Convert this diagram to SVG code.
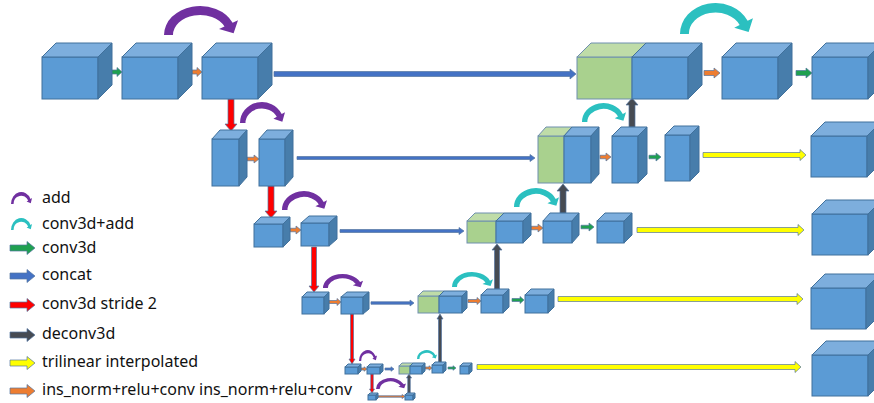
<svg xmlns="http://www.w3.org/2000/svg" xmlns:xlink="http://www.w3.org/1999/xlink" width="874" height="403" viewBox="0 0 874 403">
<style>
.fr{fill:#5B9BD5;stroke:#41719C;stroke-width:1}
.tp{fill:#7DAEDD;stroke:#41719C;stroke-width:1}
.sd{fill:#477DAB;stroke:#41719C;stroke-width:1}
.gf{fill:#A9D18E;stroke:#6F8FAF;stroke-width:1}
.gt{fill:#BFDCA8;stroke:#6F8FAF;stroke-width:1}
.ar{stroke:#5576A0;stroke-width:0.7}
.g{fill:#1FA050}
.b{fill:#4472C4}
.r{fill:#FF0000}
.d{fill:#464B53}
.y{fill:#FFFF00}
.o{fill:#ED7D31}
.pu{fill:#7030A0}
.cy{fill:#2BC0C0}
text{font-family:"Noto Sans","Liberation Sans",sans-serif;font-size:16px;fill:#111}
</style>
<defs>
<path id="arc" d="M0,29 A36,29 0 0 1 68.6,16.7 L74,14.2 L69.6,27.2 L55,23.1 L60.5,20.5 A27,20 0 0 0 9,29 Z"/>
</defs>

<g id="connectors">
<!-- arcs -->
<use xlink:href="#arc" class="pu" transform="translate(164,6) scale(1,1)"/>
<use xlink:href="#arc" class="pu" transform="translate(240,102) scale(0.608,0.724)"/>
<use xlink:href="#arc" class="pu" transform="translate(282,191) scale(0.608,0.655)"/>
<use xlink:href="#arc" class="pu" transform="translate(323,274) scale(0.541,0.483)"/>
<use xlink:href="#arc" class="pu" transform="translate(359,350) scale(0.243,0.379)"/>
<use xlink:href="#arc" class="pu" transform="translate(376,378) scale(0.405,0.379)"/>
<use xlink:href="#arc" class="cy" transform="translate(680,3) scale(0.986,1.069)"/>
<use xlink:href="#arc" class="cy" transform="translate(582,103) scale(0.595,0.655)"/>
<use xlink:href="#arc" class="cy" transform="translate(514,188) scale(0.608,0.655)"/>
<use xlink:href="#arc" class="cy" transform="translate(452,272) scale(0.554,0.517)"/>
<use xlink:href="#arc" class="cy" transform="translate(417,350) scale(0.270,0.310)"/>

<!-- row 1 -->
<polygon class="ar g" points="111,70 117,70 117,67.5 122,72 117,76.5 117,74 111,74"/>
<polygon class="ar o" points="192,70 197,70 197,67.5 202,72 197,76.5 197,74 192,74"/>
<polygon class="ar b" points="274,71.5 570,71.5 570,69 576,74 570,79 570,76.5 274,76.5"/>
<polygon class="ar o" points="704,70.5 714,70.5 714,68 720,73 714,78 714,75.5 704,75.5"/>
<polygon class="ar g" points="796,70.5 806,70.5 806,68 812,73 806,78 806,75.5 796,75.5"/>
<polygon class="ar r" points="228,99 234,99 234,124 237,124 231,131 225,124 228,124"/>
<!-- row 2 -->
<polygon class="ar o" points="247,157.25 254,157.25 254,155 259,159 254,163 254,160.75 247,160.75"/>
<polygon class="ar b" points="297,156.5 530,156.5 530,154.5 535,158 530,161.5 530,159.5 297,159.5"/>
<polygon class="ar o" points="600,155.25 606,155.25 606,153 611,157 606,161 606,158.75 600,158.75"/>
<polygon class="ar g" points="649,155.25 656,155.25 656,153 661,157 656,161 656,158.75 649,158.75"/>
<polygon class="ar y" points="703,152.5 800,152.5 800,149.5 806,155 800,160.5 800,157.5 703,157.5"/>
<polygon class="ar d" points="629,127 635,127 635,105 638,105 632,98 626,105 629,105"/>
<polygon class="ar r" points="268,186 274,186 274,211 277,211 271,218 265,211 268,211"/>
<!-- row 3 -->
<polygon class="ar o" points="290,228.25 296,228.25 296,226 301,230 296,234 296,231.75 290,231.75"/>
<polygon class="ar b" points="340,229.5 459,229.5 459,227.5 464,231 459,234.5 459,232.5 340,232.5"/>
<polygon class="ar o" points="531,226.25 538,226.25 538,224 543,228 538,232 538,229.75 531,229.75"/>
<polygon class="ar g" points="581,225.25 589,225.25 589,223 594,227 589,231 589,228.75 581,228.75"/>
<polygon class="ar y" points="637,227.5 798,227.5 798,224.5 804,230 798,235.5 798,232.5 637,232.5"/>
<polygon class="ar d" points="560,213 566,213 566,191 569,191 563,184 557,191 560,191"/>
<polygon class="ar r" points="311.5,247 316.5,247 316.5,286 319,286 314,292 309,286 311.5,286"/>
<!-- row 4 -->
<polygon class="ar o" points="329,300.5 337,300.5 337,298.5 341,302 337,305.5 337,303.5 329,303.5"/>
<polygon class="ar b" points="371,301.75 410,301.75 410,300 414,303 410,306 410,304.25 371,304.25"/>
<polygon class="ar o" points="468,299.5 477,299.5 477,297.5 481,301 477,304.5 477,302.5 468,302.5"/>
<polygon class="ar g" points="512,298.5 520,298.5 520,296.5 524,300 520,303.5 520,301.5 512,301.5"/>
<polygon class="ar y" points="558,296.5 797,296.5 797,293.5 803,299 797,304.5 797,301.5 558,301.5"/>
<polygon class="ar d" points="494.5,289 499.5,289 499.5,250 502,250 497,244 492,250 494.5,250"/>
<polygon class="ar r" points="350.5,314 353.5,314 353.5,359 355,359 352,364 349,359 350.5,359"/>
<!-- row 5 -->
<polygon class="ar o" points="361,368 364,368 364,366.75 367,369 364,371.25 364,370 361,370"/>
<polygon class="ar b" points="385,368 391,368 391,366.75 394,369 391,371.25 391,370 385,370"/>
<polygon class="ar o" points="425,367 429,367 429,365.75 432,368 429,370.25 429,369 425,369"/>
<polygon class="ar g" points="448,367 453,367 453,365.75 456,368 453,370.25 453,369 448,369"/>
<polygon class="ar y" points="477,364.5 795,364.5 795,361.5 801,367 795,372.5 795,369.5 477,369.5"/>
<polygon class="ar d" points="438.5,363 441.5,363 441.5,319 443,319 440,314 437,319 438.5,319"/>
<polygon class="ar r" points="370.75,374 373.25,374 373.25,389 374.5,389 372,393 369.5,389 370.75,389"/>
<!-- row 6 -->
<polygon class="ar o" points="378,395.75 402,395.75 402,394.5 405,396.5 402,398.5 402,397.25 378,397.25"/>
<polygon class="ar d" points="407.75,393 410.25,393 410.25,378 411.5,378 409,374 406.5,378 407.75,378"/>
</g>

<!-- row 1 nodes -->
<g id="c1"><rect class="fr" x="42" y="57" width="56" height="42"/><polygon class="tp" points="42,57 56,43 112,43 98,57"/><polygon class="sd" points="98,57 112,43 112,85 98,99"/></g>
<g id="c2"><rect class="fr" x="122" y="57" width="56" height="42"/><polygon class="tp" points="122,57 136,43 192,43 178,57"/><polygon class="sd" points="178,57 192,43 192,85 178,99"/></g>
<g id="c3"><rect class="fr" x="202" y="57" width="56" height="42"/><polygon class="tp" points="202,57 216,43 272,43 258,57"/><polygon class="sd" points="258,57 272,43 272,85 258,99"/></g>
<g id="cat1"><rect class="gf" x="577" y="57" width="55" height="42"/><polygon class="gt" points="577,57 591,43 646,43 632,57"/><rect class="fr" x="632" y="57" width="56" height="42"/><polygon class="tp" points="632,57 646,43 702,43 688,57"/><polygon class="sd" points="688,57 702,43 702,85 688,99"/></g>
<g id="c4"><rect class="fr" x="722" y="57" width="56" height="42"/><polygon class="tp" points="722,57 736,43 792,43 778,57"/><polygon class="sd" points="778,57 792,43 792,85 778,99"/></g>
<g id="c5"><rect class="fr" x="812" y="57" width="56" height="42"/><polygon class="tp" points="812,57 826,43 882,43 868,57"/><polygon class="sd" points="868,57 882,43 882,85 868,99"/></g>

<!-- row 2 nodes -->
<g id="a2"><rect class="fr" x="212" y="139" width="27" height="47"/><polygon class="tp" points="212,139 220,130 247,130 239,139"/><polygon class="sd" points="239,139 247,130 247,177 239,186"/></g>
<g id="b2"><rect class="fr" x="259" y="139" width="26" height="47"/><polygon class="tp" points="259,139 267,130 293,130 285,139"/><polygon class="sd" points="285,139 293,130 293,177 285,186"/></g>
<g id="cat2"><rect class="gf" x="538" y="136" width="26" height="47"/><polygon class="gt" points="538,136 546,127 572,127 564,136"/><rect class="fr" x="564" y="136" width="27" height="47"/><polygon class="tp" points="564,136 572,127 599,127 591,136"/><polygon class="sd" points="591,136 599,127 599,174 591,183"/></g>
<g id="c2b"><rect class="fr" x="612" y="136" width="26" height="47"/><polygon class="tp" points="612,136 621,127 647,127 638,136"/><polygon class="sd" points="638,136 647,127 647,174 638,183"/></g>
<g id="d2"><rect class="fr" x="665" y="135" width="25" height="46"/><polygon class="tp" points="665,135 674,126 699,126 690,135"/><polygon class="sd" points="690,135 699,126 699,172 690,181"/></g>
<g id="r2"><rect class="fr" x="811" y="136" width="56" height="41"/><polygon class="tp" points="811,136 825,122 881,122 867,136"/><polygon class="sd" points="867,136 881,122 881,163 867,177"/></g>

<!-- row 3 nodes -->
<g id="e3"><rect class="fr" x="254" y="224" width="29" height="23"/><polygon class="tp" points="254,224 261,217 290,217 283,224"/><polygon class="sd" points="283,224 290,217 290,240 283,247"/></g>
<g id="f3"><rect class="fr" x="301" y="223" width="28" height="23"/><polygon class="tp" points="301,223 309,216 337,216 329,223"/><polygon class="sd" points="329,223 337,216 337,239 329,246"/></g>
<g id="cat3"><rect class="gf" x="467" y="221" width="29" height="22"/><polygon class="gt" points="467,221 475,213 504,213 496,221"/><rect class="fr" x="496" y="221" width="27" height="22"/><polygon class="tp" points="496,221 504,213 531,213 523,221"/><polygon class="sd" points="523,221 531,213 531,235 523,243"/></g>
<g id="g3"><rect class="fr" x="543" y="221" width="29" height="22"/><polygon class="tp" points="543,221 550,213 579,213 572,221"/><polygon class="sd" points="572,221 579,213 579,235 572,243"/></g>
<g id="h3"><rect class="fr" x="597" y="221" width="27" height="22"/><polygon class="tp" points="597,221 605,213 632,213 624,221"/><polygon class="sd" points="624,221 632,213 632,235 624,243"/></g>
<g id="r3"><rect class="fr" x="812" y="214" width="56" height="41"/><polygon class="tp" points="812,214 826,200 882,200 868,214"/><polygon class="sd" points="868,214 882,200 882,241 868,255"/></g>

<!-- row 4 nodes -->
<g id="i4"><rect class="fr" x="302" y="297" width="22" height="17"/><polygon class="tp" points="302,297 307,292 329,292 324,297"/><polygon class="sd" points="324,297 329,292 329,309 324,314"/></g>
<g id="j4"><rect class="fr" x="341" y="297" width="22" height="17"/><polygon class="tp" points="341,297 347,292 369,292 363,297"/><polygon class="sd" points="363,297 369,292 369,309 363,314"/></g>
<g id="cat4"><rect class="gf" x="418" y="296" width="21" height="17"/><polygon class="gt" points="418,296 423,291 444,291 439,296"/><rect class="fr" x="439" y="296" width="23" height="17"/><polygon class="tp" points="439,296 444,291 467,291 462,296"/><polygon class="sd" points="462,296 467,291 467,308 462,313"/></g>
<g id="k4"><rect class="fr" x="481" y="295" width="22" height="18"/><polygon class="tp" points="481,295 487,289 509,289 503,295"/><polygon class="sd" points="503,295 509,289 509,307 503,313"/></g>
<g id="l4"><rect class="fr" x="525" y="295" width="23" height="18"/><polygon class="tp" points="525,295 531,289 554,289 548,295"/><polygon class="sd" points="548,295 554,289 554,307 548,313"/></g>
<g id="r4"><rect class="fr" x="811" y="288" width="55" height="41"/><polygon class="tp" points="811,288 825,274 880,274 866,288"/><polygon class="sd" points="866,288 880,274 880,315 866,329"/></g>

<!-- row 5 nodes -->
<g id="m5"><rect class="fr" x="345" y="367" width="13" height="7"/><polygon class="tp" points="345,367 348,364 361,364 358,367"/><polygon class="sd" points="358,367 361,364 361,371 358,374"/></g>
<g id="n5"><rect class="fr" x="367" y="367" width="13" height="7"/><polygon class="tp" points="367,367 370,364 383,364 380,367"/><polygon class="sd" points="380,367 383,364 383,371 380,374"/></g>
<g id="cat5"><rect class="gf" x="399" y="366" width="11" height="8"/><polygon class="gt" points="399,366 402,363 413,363 410,366"/><rect class="fr" x="410" y="366" width="12" height="8"/><polygon class="tp" points="410,366 413,363 425,363 422,366"/><polygon class="sd" points="422,366 425,363 425,371 422,374"/></g>
<g id="o5"><rect class="fr" x="432" y="365" width="11" height="8"/><polygon class="tp" points="432,365 435,362 446,362 443,365"/><polygon class="sd" points="443,365 446,362 446,370 443,373"/></g>
<g id="p5"><rect class="fr" x="460" y="366" width="9" height="8"/><polygon class="tp" points="460,366 463,363 472,363 469,366"/><polygon class="sd" points="469,366 472,363 472,371 469,374"/></g>
<g id="r5"><rect class="fr" x="812" y="355" width="56" height="41"/><polygon class="tp" points="812,355 826,341 882,341 868,355"/><polygon class="sd" points="868,355 882,341 882,382 868,396"/></g>

<!-- row 6 nodes -->
<g id="q6"><rect class="fr" x="368" y="395" width="8" height="5"/><polygon class="tp" points="368,395 370,393 378,393 376,395"/><polygon class="sd" points="376,395 378,393 378,398 376,400"/></g>
<g id="s6"><rect class="fr" x="405" y="395" width="8" height="5"/><polygon class="tp" points="405,395 407,393 415,393 413,395"/><polygon class="sd" points="413,395 415,393 415,398 413,400"/></g>

<!-- legend -->
<g id="legend">
<use xlink:href="#arc" class="pu" transform="translate(11,192) scale(0.284,0.414)"/>
<use xlink:href="#arc" class="cy" transform="translate(11,218) scale(0.284,0.414)"/>
<polygon class="ar g" points="10,245 27,245 27,241.5 35,248 27,254.5 27,251 10,251"/>
<polygon class="ar b" points="10,273 27,273 27,269.5 35,276 27,282.5 27,279 10,279"/>
<polygon class="ar r" points="10,302 27,302 27,298.5 35,305 27,311.5 27,308 10,308"/>
<polygon class="ar d" points="10,332 27,332 27,328.5 35,335 27,341.5 27,338 10,338"/>
<polygon class="ar y" points="10,360 27,360 27,356.5 35,363 27,369.5 27,366 10,366"/>
<polygon class="ar o" points="10,388 27,388 27,384.5 35,391 27,397.5 27,394 10,394"/>
<text x="42" y="203">add</text>
<text x="42" y="229">conv3d+add</text>
<text x="42" y="253">conv3d</text>
<text x="42" y="280">concat</text>
<text x="42" y="309">conv3d stride 2</text>
<text x="42" y="339">deconv3d</text>
<text x="42" y="367">trilinear interpolated</text>
<text x="42" y="395">ins_norm+relu+conv ins_norm+relu+conv</text>
</g>
</svg>
